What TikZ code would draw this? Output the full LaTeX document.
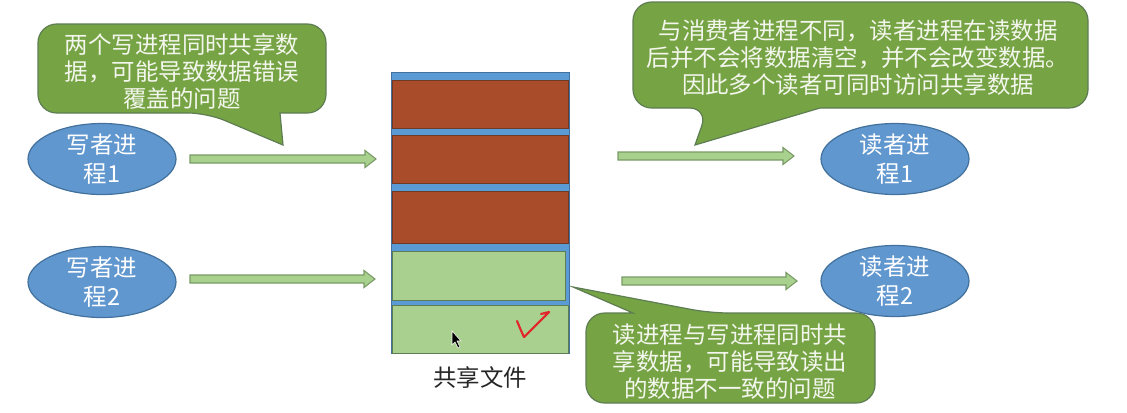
\documentclass[tikz,border=0pt]{standalone}
\usepackage{fontspec}
\setmainfont{Noto Sans CJK SC}
\usetikzlibrary{shapes.geometric,calc}
\definecolor{bubblefill}{HTML}{76A444}
\definecolor{bubbleline}{HTML}{5E7D52}
\definecolor{bubbletext}{HTML}{F3F6EC}
\definecolor{ellfill}{HTML}{6197CF}
\definecolor{ellline}{HTML}{41719C}
\definecolor{arrfill}{HTML}{A9D18E}
\definecolor{arrline}{HTML}{789A66}
\definecolor{fileblue}{HTML}{5B9BD5}
\definecolor{filebrown}{HTML}{A84C2A}
\definecolor{brownline}{HTML}{6F3A26}
\definecolor{filegreen}{HTML}{A9D08E}
\definecolor{greenline}{HTML}{5E7D52}
\definecolor{checkred}{HTML}{E0262A}
\newcommand\blockarrow[2]{\draw[barrow] ($(#1)+(0,-4)$) -- ($(#2)+(-11,-4)$) -- ($(#2)+(-11,-8.5)$) -- (#2) -- ($(#2)+(-11,8.5)$) -- ($(#2)+(-11,4)$) -- ($(#1)+(0,4)$) -- cycle;}
\begin{document}
\begin{tikzpicture}[x=0.75pt,y=-0.75pt,
  proc/.style={ellipse, draw=ellline, line width=0.9pt, fill=ellfill, minimum width=111pt, minimum height=46.5pt, inner sep=0pt, text=white, align=center, font=\fontsize{17.6}{21.5}\selectfont},
  bubble/.style={fill=bubblefill, draw=bubbleline, line width=0.9pt},
  btext/.style={text=bubbletext, align=center, inner sep=0pt, font=\fontsize{17.6}{20.3}\selectfont},
  barrow/.style={fill=arrfill, draw=arrline, line width=0.8pt},
  brownblk/.style={fill=filebrown, draw=brownline, line width=0.5pt, minimum width=132pt, inner sep=0pt},
  greenblk/.style={fill=filegreen, draw=greenline, line width=0.5pt, inner sep=0pt},
]
\useasboundingbox (0,0) rectangle (1127,412);

% callout 1
\draw[bubble] (283,145) -- (280,113) [rounded corners=14] -- (326,113) -- (326,24) -- (38,24) -- (38,113) -- (207,113) [sharp corners] -- cycle;
\node[btext] (c1) at (182,71.5) {两个写进程同时共享数\\据，可能导致数据错误\\覆盖的问题};

% callout 2
\draw[bubble] (695,145) -- (820,108) [rounded corners=14] -- (1088,108) -- (1088,2) -- (633,2) -- (633,108) -- (708,108) [sharp corners] -- cycle;
\node[btext] (c2) at (858,57.5) {与消费者进程不同，读者进程在读数据\\后并不会将数据清空，并不会改变数据。\\因此多个读者可同时访问共享数据};

% callout 3
\draw[bubble] (573,287) -- (633,313) [rounded corners=14] -- (586,313) -- (586,403) -- (875,403) -- (875,313) -- (710,313) [sharp corners] -- cycle;
\node[btext] (c3) at (730,362) {读进程与写进程同时共\\享数据，可能导致读出\\的数据不一致的问题};

% processes
\node[proc] (w1) at (102,159) {写者进\\程1};
\node[proc] (w2) at (102,282) {写者进\\程2};
\node[proc] (r1) at (895,159) {读者进\\程1};
\node[proc] (r2) at (895,281) {读者进\\程2};

% shared file
\node[fill=fileblue, draw=ellline, line width=0.6pt, minimum width=133.5pt, minimum height=210.75pt, inner sep=0pt] (file) at (480,212.5) {};
\node[brownblk, minimum height=36pt] (b1) at (480,104) {};
\node[brownblk, minimum height=36pt] (b2) at (480,159) {};
\node[brownblk, minimum height=39pt] (b3) at (480,217) {};
\node[greenblk, minimum width=129.75pt, minimum height=36.75pt] (g1) at (478.5,275.5) {};
\node[greenblk, minimum width=132pt, minimum height=36pt] (g2) at (480,329) {};
\node[text=black!85, inner sep=0pt, font=\fontsize{17.6}{20}\selectfont] (lbl) at (480,378) {共享文件};

% check mark
\draw[checkred, line width=1.6pt, line cap=round, line join=round] (517,321) .. controls (520,328) and (522,333) .. (524,337) -- (549,312) -- (541,314);
% mouse cursor
\draw[fill=black, draw=white, line width=0.4pt] (452,331) -- (452,345) -- (455,342) -- (458,348) -- (460,347) -- (457,341) -- (461,341) -- cycle;

% arrows
\coordinate (w1s) at (190,159); \coordinate (w1e) at (376,159);
\coordinate (w2s) at (190,279); \coordinate (w2e) at (375,279);
\coordinate (r1s) at (618,156); \coordinate (r1e) at (794,156);
\coordinate (r2s) at (622,281); \coordinate (r2e) at (797,281);
\blockarrow{w1s}{w1e}
\blockarrow{w2s}{w2e}
\blockarrow{r1s}{r1e}
\blockarrow{r2s}{r2e}
\end{tikzpicture}
\end{document}
